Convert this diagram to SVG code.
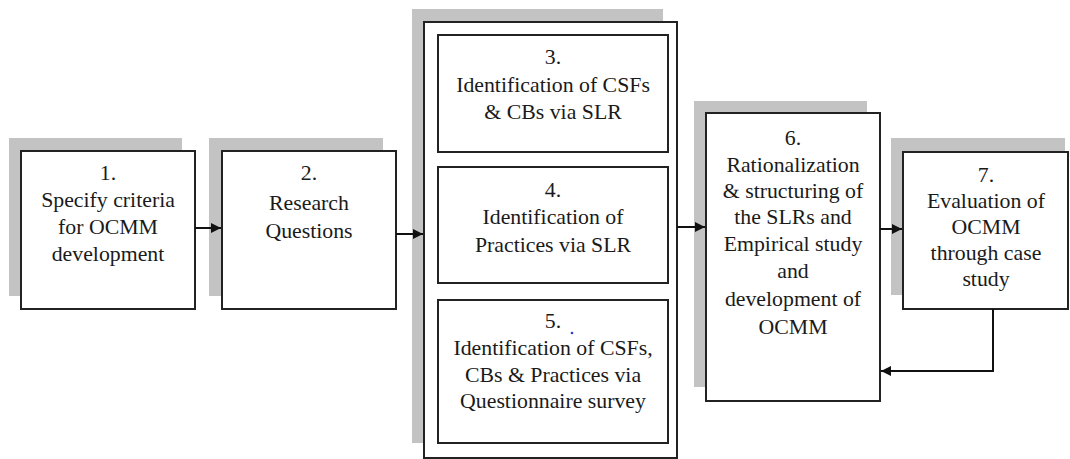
<svg xmlns="http://www.w3.org/2000/svg" width="1070" height="459" viewBox="0 0 1070 459">
<style>
.shadow{fill:#c3c3c3;stroke:none}
.box{fill:#fff;stroke:#222;stroke-width:2}
.t{font-family:"Liberation Serif","Times New Roman",serif;font-size:21.8px;fill:#1a1a1a;text-anchor:middle}
.conn{fill:none;stroke:#111;stroke-width:2}
</style>
<defs>
<marker id="ah" viewBox="0 0 10 10" refX="10" refY="5" markerWidth="11" markerHeight="10" markerUnits="userSpaceOnUse" orient="auto">
<path d="M0,0 L10,5 L0,10 z" fill="#111"/>
</marker>
</defs>
<rect width="1070" height="459" fill="#fff"/>
<g id="node1">
<rect class="shadow" x="9" y="138" width="173" height="158"/>
<rect class="box" x="21" y="151" width="174" height="158"/>
<text class="t" x="108" y="180">1.</text>
<text class="t" x="108" y="207">Specify criteria</text>
<text class="t" x="108" y="234">for OCMM</text>
<text class="t" x="108" y="261">development</text>
</g>
<g id="node2">
<rect class="shadow" x="209" y="138" width="174" height="158"/>
<rect class="box" x="222" y="151" width="174" height="158"/>
<text class="t" x="309" y="180">2.</text>
<text class="t" x="309" y="210">Research</text>
<text class="t" x="309" y="238">Questions</text>
</g>
<g id="group345">
<rect class="shadow" x="412" y="9" width="251" height="434"/>
<rect class="box" x="424" y="22" width="253" height="436"/>
</g>
<g id="node3">
<rect class="box" x="438" y="35" width="230" height="117"/>
<text class="t" x="553" y="64">3.</text>
<text class="t" x="553" y="92">Identification of CSFs</text>
<text class="t" x="553" y="119">&amp; CBs via SLR</text>
</g>
<g id="node4">
<rect class="box" x="438" y="167" width="230" height="116"/>
<text class="t" x="553" y="197">4.</text>
<text class="t" x="553" y="224">Identification of</text>
<text class="t" x="553" y="252">Practices via SLR</text>
</g>
<g id="node5">
<rect class="box" x="438" y="300" width="230" height="143"/>
<text class="t" x="553" y="328">5.</text>
<circle cx="572" cy="333" r="1.3" fill="#2a3fd0"/>
<text class="t" x="553" y="355">Identification of CSFs,</text>
<text class="t" x="553" y="382">CBs &amp; Practices via</text>
<text class="t" x="553" y="408">Questionnaire survey</text>
</g>
<g id="node6">
<rect class="shadow" x="694" y="101" width="173" height="286"/>
<rect class="box" x="706" y="113" width="174" height="288"/>
<text class="t" x="793" y="145">6.</text>
<text class="t" x="793" y="172">Rationalization</text>
<text class="t" x="793" y="198">&amp; structuring of</text>
<text class="t" x="793" y="224">the SLRs and</text>
<text class="t" x="793" y="251">Empirical study</text>
<text class="t" x="793" y="278">and</text>
<text class="t" x="793" y="306">development of</text>
<text class="t" x="793" y="334">OCMM</text>
</g>
<g id="node7">
<rect class="shadow" x="891" y="138" width="174" height="157"/>
<rect class="box" x="903" y="152" width="165" height="157"/>
<text class="t" x="986" y="182">7.</text>
<text class="t" x="986" y="208">Evaluation of</text>
<text class="t" x="986" y="234">OCMM</text>
<text class="t" x="986" y="260">through case</text>
<text class="t" x="986" y="286">study</text>
</g>
<g id="connectors">
<line class="conn" x1="195" y1="228" x2="221" y2="228" marker-end="url(#ah)"/>
<line class="conn" x1="396" y1="234" x2="423" y2="234" marker-end="url(#ah)"/>
<line class="conn" x1="677" y1="227" x2="705" y2="227" marker-end="url(#ah)"/>
<line class="conn" x1="880" y1="229" x2="902" y2="229" marker-end="url(#ah)"/>
<polyline class="conn" points="993,309 993,371 881,371" marker-end="url(#ah)"/>
</g>
</svg>
